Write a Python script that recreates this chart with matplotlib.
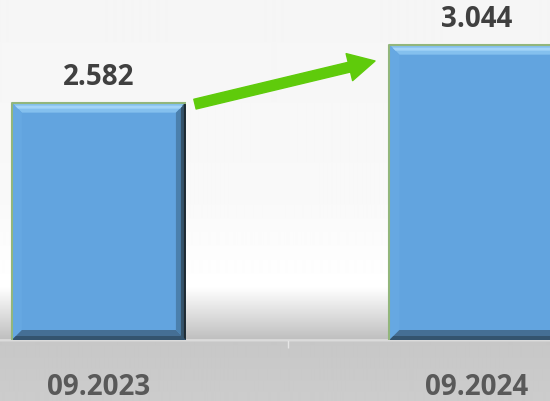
import numpy as np
import matplotlib.pyplot as plt
from matplotlib.patches import Polygon
from matplotlib.transforms import IdentityTransform, blended_transform_factory

plt.rcParams['font.family'] = ['Open Sans', 'DejaVu Sans']

# data
categories = ['09.2023', '09.2024']
values = [2.582, 3.044]
value_labels = ['2.582', '3.044']

fig = plt.figure(figsize=(5.5, 4.02), dpi=100)

# background: light top, white band, grey floor
bg = fig.add_axes([0, 0, 1, 1], zorder=-1)
rows = np.arange(402)
stops_y = [0, 200, 288, 340, 341, 343, 402]
stops_c = [0.962, 0.975, 1.0, 0.75, 0.86, 0.78, 0.80]
grad = np.interp(rows, stops_y, stops_c)
bg.imshow(np.repeat(grad[:, None], 2, axis=1), cmap='gray', vmin=0, vmax=1,
          aspect='auto', extent=[0, 1, 0, 1], interpolation='bilinear')
bg.axis('off')

ax = fig.add_axes([0, 61 / 402, 1, 1 - 61 / 402])
ax.set_facecolor('none')
y_floor = 0.69
ax.set_xlim(-0.262, 1.195)
ax.set_ylim(y_floor, 3.408)

x = np.arange(len(categories))
bw = 0.461
bars = ax.bar(x, np.array(values) - y_floor, bottom=y_floor, width=bw,
              color='#62a4df', edgecolor='none', zorder=2)

# bevel edges drawn in pixel space around each bar
b = 10
for bar in bars:
    (x0, y0) = ax.transData.transform((bar.get_x(), bar.get_y()))
    (x1, y1) = ax.transData.transform((bar.get_x() + bar.get_width(),
                                       bar.get_y() + bar.get_height()))
    faces = [
        ([(x0, y1), (x1, y1), (x1 - b, y1 - b), (x0 + b, y1 - b)], '#84c0ee'),
        ([(x0, y0), (x0, y1), (x0 + b, y1 - b), (x0 + b, y0 + b)], '#66a8e2'),
        ([(x1, y0), (x1, y1), (x1 - b, y1 - b), (x1 - b, y0 + b)], '#4b80ad'),
        ([(x0, y0), (x1, y0), (x1 - b, y0 + b), (x0 + b, y0 + b)], '#456f95'),
        ([(x1 - 5, y0 + 4), (x1 - 5, y1 - 4), (x1, y1), (x1, y0)], '#35536a'),
        ([(x1 - 2, y0 + 1), (x1 - 2, y1 - 1), (x1, y1), (x1, y0)], '#1f2b33'),
        ([(x0 + 3, y1 - 3), (x1 - 3, y1 - 3), (x1 - 6, y1 - 6), (x0 + 6, y1 - 6)], '#a3d4f8'),
        ([(x0 + 4, y0 + 4), (x1 - 4, y0 + 4), (x1, y0), (x0, y0)], '#34546f'),
    ]
    for pts, col in faces:
        ax.add_patch(Polygon(pts, closed=True, facecolor=col, edgecolor='none',
                             transform=IdentityTransform(), zorder=3))
    ax.plot([x0, x0, x1], [y0, y1, y1], color='#92b67c', lw=1.5,
            transform=IdentityTransform(), zorder=4, solid_capstyle='butt')

# value labels
for xi, v, lab in zip(x, values, value_labels):
    ax.annotate(lab, (xi, v), xytext=(0, 13.7), textcoords='offset points',
                ha='center', va='baseline', fontsize=20, fontweight='bold',
                color='#404040', zorder=5)

# category labels
trans = blended_transform_factory(ax.transData, ax.transAxes)
for xi, cat in zip(x, categories):
    ax.annotate(cat, (xi, 0), xycoords=trans, xytext=(0, -38.9),
                textcoords='offset points', ha='center', va='baseline',
                fontsize=20, fontweight='bold', color='#595959',
                annotation_clip=False)

# growth arrow
tail = (x[0] + bw / 2 + 0.024, values[0] - 0.012)
tip = (x[1] - bw / 2 - 0.038, values[1] - 0.13)
ax.annotate('', xy=tip, xytext=tail,
            arrowprops=dict(arrowstyle='simple,head_length=0.95,head_width=1.0,tail_width=0.36',
                            mutation_scale=20, color='#5fcb0b', shrinkA=0, shrinkB=0),
            zorder=6)

for s in ['top', 'right', 'left']:
    ax.spines[s].set_visible(False)
ax.spines['bottom'].set_color('#dcdcdc')
ax.spines['bottom'].set_linewidth(1.2)
ax.set_yticks([])
ax.set_xticks([0.5])
ax.set_xticklabels([''])
ax.tick_params(axis='x', length=6, width=1, color='#e6e6e6', direction='out')

fig.savefig('out.png', dpi=100)
